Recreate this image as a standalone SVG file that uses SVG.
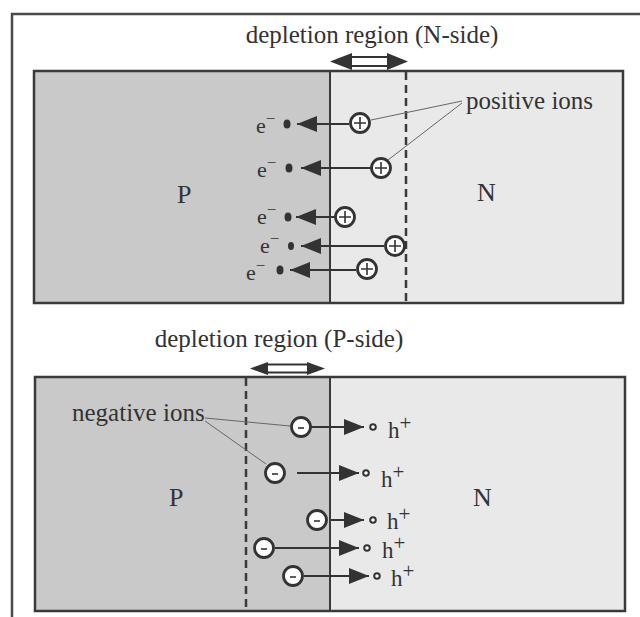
<svg xmlns="http://www.w3.org/2000/svg" width="640" height="617" viewBox="0 0 640 617">
<defs>
<style>
.frame{fill:none;stroke:#4a4a4a;stroke-width:2.5}
.box{stroke:#3a3a3a;stroke-width:2.5}
.pside{fill:#c9c9c9}
.nside{fill:#e9e9e9}
.div{stroke:#3a3a3a;stroke-width:2;fill:none}
.dash{stroke:#3a3a3a;stroke-width:2.5;stroke-dasharray:8 5;fill:none}
.lbl{font-family:"Liberation Serif","Times New Roman",serif;fill:#333;font-size:25px}
.big{font-family:"Liberation Serif","Times New Roman",serif;fill:#333;font-size:26px}
.hh{font-family:"Liberation Serif","Times New Roman",serif;fill:#333;font-size:23px}
.el{font-family:"Liberation Serif","Times New Roman",serif;fill:#333;font-size:22px}
.shaft{stroke:#333;stroke-width:2.2;fill:none}
.head{fill:#333}
.ion{fill:#fff;stroke:#333;stroke-width:2.8}
.sign{stroke:#333;stroke-width:1.6}
.lead{stroke:#666;stroke-width:1;fill:none}
.hole{fill:#fff;stroke:#333;stroke-width:2}
.elec{fill:#333}
</style>
<marker id="ah" markerUnits="userSpaceOnUse" markerWidth="20" markerHeight="16" refX="20" refY="8" orient="auto">
<path d="M0,0 L20,8 L0,16 Z" fill="#333"/>
</marker>
</defs>

<g id="frame">
<path class="frame" d="M12,617 L12,14 L640,14"/>
</g>

<g id="top-box">
<rect class="pside" x="34" y="71" width="296" height="232"/>
<rect class="nside" x="330" y="71" width="293" height="232"/>
<rect class="box" x="34" y="71" width="589" height="232" fill="none"/>
<line class="div" x1="330" y1="71" x2="330" y2="303"/>
<line class="dash" x1="406" y1="72" x2="406" y2="302"/>
<text class="big" x="177" y="203">P</text>
<text class="big" x="477" y="201">N</text>
</g>

<g id="top-label">
<text class="lbl" x="372" y="43" text-anchor="middle">depletion region (N-side)</text>
<g id="top-span">
<polygon class="head" points="330,61.5 352,53 352,70"/>
<polygon class="head" points="408,61.5 387,53 387,70"/>
<line class="shaft" x1="351" y1="57" x2="388" y2="57"/>
<line class="shaft" x1="351" y1="66" x2="388" y2="66"/>
</g>
</g>

<g id="positive-ions-label">
<text class="lbl" x="466" y="109">positive ions</text>
</g>

<g id="bottom-box">
<rect class="pside" x="35" y="377" width="295" height="234"/>
<rect class="nside" x="330" y="377" width="295" height="234"/>
<rect class="box" x="35" y="377" width="590" height="234" fill="none"/>
<line class="div" x1="330" y1="377" x2="330" y2="611"/>
<line class="dash" x1="246" y1="378" x2="246" y2="610"/>
<text class="big" x="169" y="506">P</text>
<text class="big" x="473" y="506">N</text>
</g>

<g id="bottom-label">
<text class="lbl" x="279" y="347" text-anchor="middle">depletion region (P-side)</text>
<g id="bottom-span">
<polygon class="head" points="250,368.5 268,362 268,375"/>
<polygon class="head" points="325,368.5 307,362 307,375"/>
<line class="shaft" x1="267" y1="364.5" x2="308" y2="364.5"/>
<line class="shaft" x1="267" y1="372.5" x2="308" y2="372.5"/>
</g>
</g>

<g id="negative-ions-label">
<text class="lbl" x="72" y="421">negative ions</text>
</g>

<g id="connectors">
<line class="lead" x1="462" y1="101" x2="371" y2="120"/>
<line class="lead" x1="462" y1="103" x2="388" y2="160"/>
<line class="lead" x1="205" y1="418" x2="290" y2="426"/>
<line class="lead" x1="205" y1="421" x2="266" y2="464"/>
<line class="shaft" x1="349" y1="124" x2="297" y2="124" marker-end="url(#ah)"/>
<line class="shaft" x1="371" y1="168" x2="301" y2="168" marker-end="url(#ah)"/>
<line class="shaft" x1="335" y1="217" x2="296" y2="217" marker-end="url(#ah)"/>
<line class="shaft" x1="384" y1="246" x2="301" y2="246" marker-end="url(#ah)"/>
<line class="shaft" x1="356" y1="270" x2="290" y2="270" marker-end="url(#ah)"/>
<line class="shaft" x1="311" y1="427" x2="364" y2="427" marker-end="url(#ah)"/>
<line class="shaft" x1="297" y1="473" x2="359" y2="473" marker-end="url(#ah)"/>
<line class="shaft" x1="331" y1="520" x2="364" y2="520" marker-end="url(#ah)"/>
<line class="shaft" x1="275" y1="548" x2="359" y2="548" marker-end="url(#ah)"/>
<line class="shaft" x1="304" y1="576" x2="369" y2="576" marker-end="url(#ah)"/>
</g>

<g id="positive-ions">
<g id="pion1"><circle class="ion" cx="360" cy="123" r="9.5"/><path class="sign" d="M354,123 H366 M360,117 V129"/></g>
<g id="pion2"><circle class="ion" cx="381" cy="168" r="9.5"/><path class="sign" d="M375,168 H387 M381,162 V174"/></g>
<g id="pion3"><circle class="ion" cx="345" cy="217" r="9.5"/><path class="sign" d="M339,217 H351 M345,211 V223"/></g>
<g id="pion4"><circle class="ion" cx="395" cy="246" r="9.5"/><path class="sign" d="M389,246 H401 M395,240 V252"/></g>
<g id="pion5"><circle class="ion" cx="367" cy="269" r="9.5"/><path class="sign" d="M361,269 H373 M367,263 V275"/></g>
</g>

<g id="electrons">
<g id="e1"><ellipse class="elec" cx="287" cy="124" rx="3.5" ry="4.5"/><text class="el" x="256" y="133">e<tspan dy="-9" font-size="17">−</tspan></text></g>
<g id="e2"><ellipse class="elec" cx="289" cy="168" rx="3.5" ry="4.5"/><text class="el" x="257" y="177">e<tspan dy="-9" font-size="17">−</tspan></text></g>
<g id="e3"><ellipse class="elec" cx="288" cy="217" rx="3.5" ry="4.5"/><text class="el" x="257" y="224">e<tspan dy="-9" font-size="17">−</tspan></text></g>
<g id="e4"><ellipse class="elec" cx="291" cy="246" rx="3" ry="4"/><text class="el" x="260" y="253">e<tspan dy="-9" font-size="17">−</tspan></text></g>
<g id="e5"><ellipse class="elec" cx="280" cy="270" rx="3.5" ry="4.5"/><text class="el" x="246" y="280">e<tspan dy="-9" font-size="17">−</tspan></text></g>
</g>

<g id="negative-ions">
<g id="nion1"><circle class="ion" cx="301" cy="427" r="9.5"/><path class="sign" d="M298,428 H304"/></g>
<g id="nion2"><circle class="ion" cx="275" cy="473" r="9.5"/><path class="sign" d="M272,474 H278"/></g>
<g id="nion3"><circle class="ion" cx="317" cy="520" r="9.5"/><path class="sign" d="M314,521 H320"/></g>
<g id="nion4"><circle class="ion" cx="264" cy="548" r="9.5"/><path class="sign" d="M261,549 H267"/></g>
<g id="nion5"><circle class="ion" cx="293" cy="576" r="9.5"/><path class="sign" d="M290,577 H296"/></g>
</g>

<g id="holes">
<g id="h1"><circle class="hole" cx="373" cy="427" r="2.8"/><text class="hh" x="388" y="438">h<tspan dy="-8" font-size="21">+</tspan></text></g>
<g id="h2"><circle class="hole" cx="366" cy="473" r="2.8"/><text class="hh" x="381" y="487">h<tspan dy="-8" font-size="21">+</tspan></text></g>
<g id="h3"><circle class="hole" cx="373" cy="520" r="2.8"/><text class="hh" x="387" y="529">h<tspan dy="-8" font-size="21">+</tspan></text></g>
<g id="h4"><circle class="hole" cx="367" cy="548" r="2.8"/><text class="hh" x="382" y="558">h<tspan dy="-8" font-size="21">+</tspan></text></g>
<g id="h5"><circle class="hole" cx="377" cy="576" r="2.8"/><text class="hh" x="391" y="586">h<tspan dy="-8" font-size="21">+</tspan></text></g>
</g>
</svg>
